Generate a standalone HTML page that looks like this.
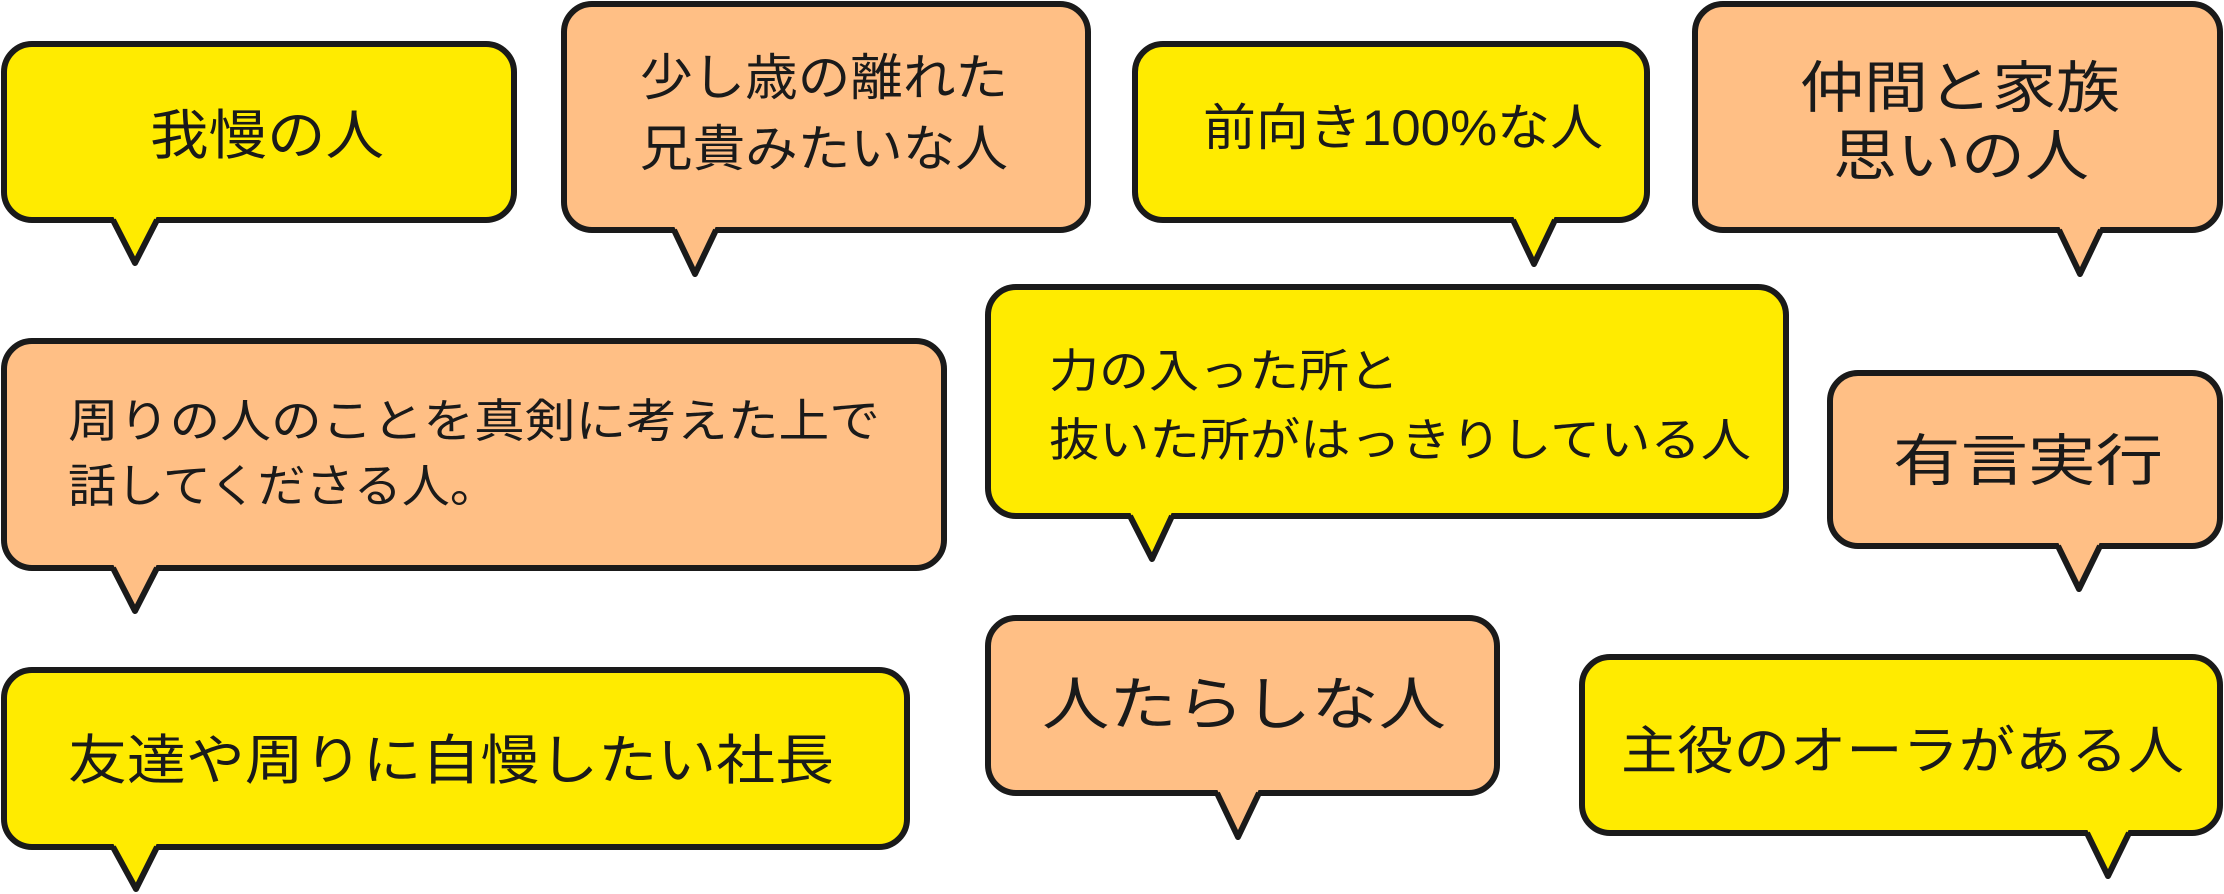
<!DOCTYPE html>
<html><head><meta charset="utf-8"><style>
html,body{margin:0;padding:0;background:#fff;width:2224px;height:894px;overflow:hidden}
svg{display:block}
text{font-family:"Liberation Sans","Noto Sans CJK JP",sans-serif;fill:#1a1a1a;dominant-baseline:central}
</style></head><body>
<svg width="2224" height="894" viewBox="0 0 2224 894" xmlns="http://www.w3.org/2000/svg">
<g stroke="#1a1a1a" stroke-width="6" stroke-linejoin="round">
<!-- B1 -->
<rect x="4" y="44" width="510" height="176" rx="28" fill="#FFEB00"/>
<polygon points="113,216 135,263 157,216" fill="#FFEB00" stroke="none"/>
<polyline points="113,220 135,263 157,220" fill="none"/>
<!-- B2 -->
<rect x="564" y="4" width="524" height="226" rx="28" fill="#FFBF85"/>
<polygon points="674,226 695,274 716,226" fill="#FFBF85" stroke="none"/>
<polyline points="674,230 695,274 716,230" fill="none"/>
<!-- B3 -->
<rect x="1135" y="44" width="512" height="176" rx="28" fill="#FFEB00"/>
<polygon points="1513,216 1534,264 1555,216" fill="#FFEB00" stroke="none"/>
<polyline points="1513,220 1534,264 1555,220" fill="none"/>
<!-- B4 -->
<rect x="1695" y="4" width="525" height="226" rx="28" fill="#FFBF85"/>
<polygon points="2059,226 2080,274 2101,226" fill="#FFBF85" stroke="none"/>
<polyline points="2059,230 2080,274 2101,230" fill="none"/>
<!-- B5 -->
<rect x="4" y="341" width="940" height="227" rx="28" fill="#FFBF85"/>
<polygon points="113,564 135,611 157,564" fill="#FFBF85" stroke="none"/>
<polyline points="113,568 135,611 157,568" fill="none"/>
<!-- B6 -->
<rect x="988" y="287" width="798" height="229" rx="28" fill="#FFEB00"/>
<polygon points="1130,512 1152,559 1172,512" fill="#FFEB00" stroke="none"/>
<polyline points="1130,516 1152,559 1172,516" fill="none"/>
<!-- B7 -->
<rect x="1830" y="373" width="390" height="173" rx="28" fill="#FFBF85"/>
<polygon points="2058,542 2079,589 2100,542" fill="#FFBF85" stroke="none"/>
<polyline points="2058,546 2079,589 2100,546" fill="none"/>
<!-- B8 -->
<rect x="4" y="670" width="903" height="177" rx="28" fill="#FFEB00"/>
<polygon points="113,843 136,889 157,843" fill="#FFEB00" stroke="none"/>
<polyline points="113,847 136,889 157,847" fill="none"/>
<!-- B9 -->
<rect x="988" y="618" width="509" height="175" rx="28" fill="#FFBF85"/>
<polygon points="1217,789 1238,837 1259,789" fill="#FFBF85" stroke="none"/>
<polyline points="1217,793 1238,837 1259,793" fill="none"/>
<!-- B10 -->
<rect x="1582" y="657" width="638" height="176" rx="28" fill="#FFEB00"/>
<polygon points="2087,829 2108,876 2129,829" fill="#FFEB00" stroke="none"/>
<polyline points="2087,833 2108,876 2129,833" fill="none"/>
</g>
<text x="150" y="136" font-size="54" textLength="234" lengthAdjust="spacingAndGlyphs">我慢の人</text>
<text x="640" y="78" font-size="50" textLength="368" lengthAdjust="spacingAndGlyphs">少し歳の離れた</text>
<text x="640" y="149" font-size="50" textLength="368" lengthAdjust="spacingAndGlyphs">兄貴みたいな人</text>
<text x="1203" y="128" font-size="50" textLength="400" lengthAdjust="spacingAndGlyphs">前向き100%な人</text>
<text x="1800" y="88" font-size="56" textLength="320" lengthAdjust="spacingAndGlyphs">仲間と家族</text>
<text x="1833" y="156" font-size="56" textLength="256" lengthAdjust="spacingAndGlyphs">思いの人</text>
<text x="68" y="421" font-size="46" textLength="812" lengthAdjust="spacingAndGlyphs">周りの人のことを真剣に考えた上で</text>
<text x="68" y="486" font-size="46" textLength="430" lengthAdjust="spacingAndGlyphs">話してくださる人。</text>
<text x="1049" y="371" font-size="46" textLength="350" lengthAdjust="spacingAndGlyphs">力の入った所と</text>
<text x="1049" y="440" font-size="46" textLength="702" lengthAdjust="spacingAndGlyphs">抜いた所がはっきりしている人</text>
<text x="1893" y="461" font-size="56" textLength="270" lengthAdjust="spacingAndGlyphs">有言実行</text>
<text x="68" y="761" font-size="54" textLength="766" lengthAdjust="spacingAndGlyphs">友達や周りに自慢したい社長</text>
<text x="1042" y="705" font-size="58" textLength="404" lengthAdjust="spacingAndGlyphs">人たらしな人</text>
<text x="1621" y="752" font-size="52" textLength="563" lengthAdjust="spacingAndGlyphs">主役のオーラがある人</text>
</svg>
</body></html>
